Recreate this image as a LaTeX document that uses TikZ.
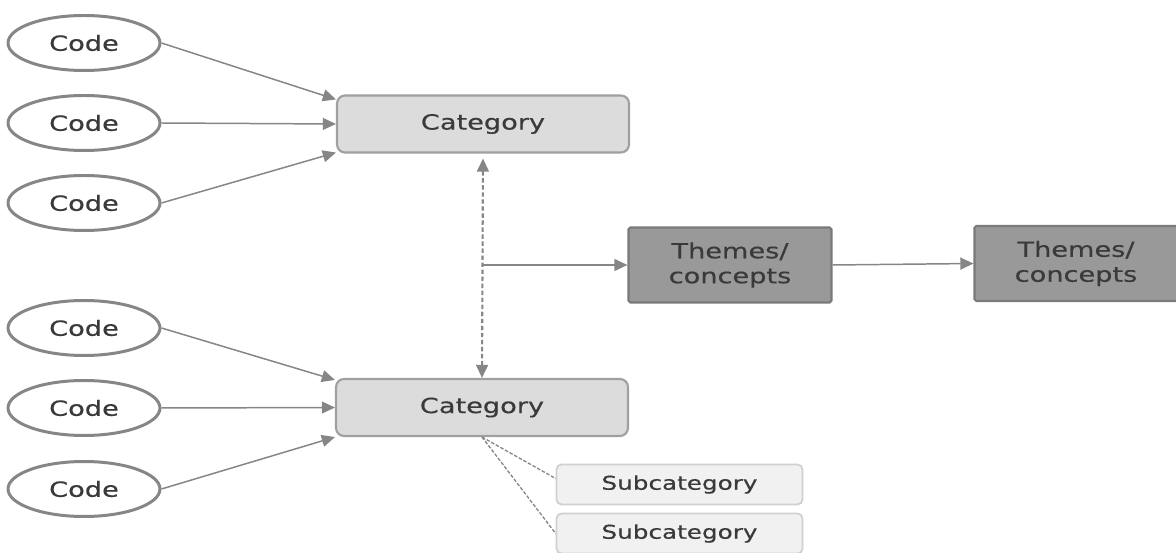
\documentclass[tikz,border=0pt]{standalone}
\usepackage{fontspec}
\setmainfont[FakeStretch=1.3, FakeBold=0.4]{DejaVu Sans}
\usepackage{xcolor}
\usetikzlibrary{calc, shapes.geometric, arrows.meta}

\definecolor{linegray}{HTML}{868686}
\definecolor{textgray}{HTML}{3A3A3A}
\definecolor{catfill}{HTML}{DCDCDC}
\definecolor{catline}{HTML}{A0A0A0}
\definecolor{themefill}{HTML}{999999}
\definecolor{themeline}{HTML}{7A7A7A}
\definecolor{subfill}{HTML}{F1F1F1}
\definecolor{subline}{HTML}{D0D0D0}

\tikzset{
  code/.style = {ellipse, draw=linegray, line width=1.7pt, fill=white,
    minimum width=3.04cm, minimum height=1.1cm, inner sep=0pt,
    text=textgray, font=\fontsize{11.9}{14}\selectfont},
  category/.style = {rectangle, rounded corners=0.16cm, draw=catline, line width=1.2pt,
    fill=catfill, minimum width=5.84cm, minimum height=1.14cm, inner sep=0pt,
    text=textgray, font=\fontsize{11.9}{14}\selectfont},
  theme/.style = {rectangle, rounded corners=1pt, draw=themeline, line width=1.2pt,
    fill=themefill, minimum width=4.06cm, minimum height=1.5cm, inner sep=0pt,
    align=center, text=textgray, font=\fontsize{11.9}{14.2}\selectfont},
  subcat/.style = {rectangle, rounded corners=0.1cm, draw=subline, line width=1pt,
    fill=subfill, minimum width=4.92cm, minimum height=0.8cm, inner sep=0pt,
    text=textgray, font=\fontsize{10.8}{13}\selectfont},
  link/.style = {draw=linegray, line width=0.85pt, -{Triangle[length=7.5pt,width=6.8pt]}},
}

\begin{document}
\begin{tikzpicture}[x=0.02cm, y=-0.02cm]

  % Frame of the picture
  \useasboundingbox (0,0) rectangle (1176,553);

  % Codes of the first category
  \node[code] (c1) at (84,43) {Code};
  \node[code] (c2) at (84,123) {Code};
  \node[code] (c3) at (84,203) {Code};

  % Codes of the second category
  \node[code] (c4) at (84,328) {Code};
  \node[code] (c5) at (84,408) {Code};
  \node[code] (c6) at (84,489) {Code};

  % Categories
  \node[category] (cat1) at (483,124) {Category};
  \node[category] (cat2) at (482,407.5) {Category};

  % Themes
  \node[theme] (th1) at (730,265) {Themes/\\concepts};
  \node[theme] (th2) at (1076,263.5) {Themes/\\concepts};

  % Subcategories
  \node[subcat] (sub1) at (679.5,484.5) {Subcategory};
  \node[subcat] (sub2) at (679.5,533.5) {Subcategory};

  % Arrows from the codes
  \draw[link] (c1.east) -- ([yshift=-0.1cm]cat1.north west);
  \draw[link] (c2.east) -- (cat1.west);
  \draw[link] (c3.east) -- ([yshift=0.02cm]cat1.south west);
  \draw[link] (c4.east) -- ([yshift=-0.04cm]cat2.north west);
  \draw[link] (c5.east) -- (cat2.west);
  \draw[link] (c6.east) -- (cat2.south west);

  % Link between the categories
  \draw[link, {Triangle[length=7.5pt,width=6.8pt]}-{Triangle[length=7.5pt,width=6.8pt]},
    line width=1.2pt, dash pattern=on 2.5pt off 1.5pt, shorten <=0.1cm]
    (cat1.south) -- (cat2.north);
  \coordinate (J) at (cat1.south |- th1.west);
  \draw[link] (J) -- (th1.west);
  \draw[link] (th1.east) -- (th2.west);

  % Subcategory lines
  \draw[linegray, line width=0.75pt, dash pattern=on 2pt off 1pt] (cat2.south) -- ([yshift=0.12cm]sub1.west);
  \draw[linegray, line width=0.75pt, dash pattern=on 2pt off 1pt] (cat2.south) -- (sub2.west);

\end{tikzpicture}
\end{document}
